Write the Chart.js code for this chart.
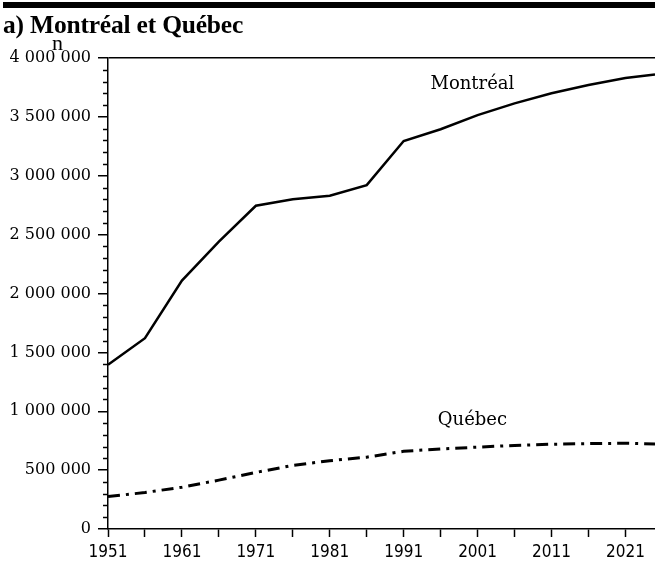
<!DOCTYPE html>
<html>
<head>
<meta charset="utf-8">
<script src="https://cdn.jsdelivr.net/npm/chart.js@4/dist/chart.umd.min.js"></script>
<style>
  body { margin: 0; background: #fff; }
  #wrap { position: relative; width: 655px; height: 562px; }
  #bar { position: absolute; left: 3px; right: 0; top: 2px; height: 6px; background: #000; }
  #title { position: absolute; left: 3px; top: 10px; font: bold 25.5px "Liberation Serif", serif; color: #000; letter-spacing: -0.2px; }
  #unit { position: absolute; left: 52px; top: 30px; font: 22px "Liberation Serif", serif; color: #000; }
</style>
</head>
<body>
<div id="wrap">
  <canvas id="chart"></canvas>
  <div id="bar"></div>
  <div id="title">a) Montréal et Québec</div>
  <div id="unit">n</div>
</div>
<script>
var years = [1951, 1956, 1961, 1966, 1971, 1976, 1981, 1986, 1991, 1996, 2001, 2006, 2011, 2016, 2021, 2025];
var montreal = [1395000, 1620000, 2110000, 2440000, 2745000, 2800000, 2830000, 2920000, 3295000, 3395000, 3515000, 3615000, 3700000, 3770000, 3830000, 3860000];
var quebec = [275000, 310000, 355000, 415000, 480000, 540000, 580000, 610000, 660000, 680000, 695000, 710000, 720000, 725000, 728000, 722000];
var xTicks = [1951, 1956, 1961, 1966, 1971, 1976, 1981, 1986, 1991, 1996, 2001, 2006, 2011, 2016, 2021];
var yTicks = [0, 500000, 1000000, 1500000, 2000000, 2500000, 3000000, 3500000, 4000000];

function points(vals) {
    return years.map(function (y, i) { return { x: y, y: vals[i] }; });
}

function fmt(v) {
    return String(v).replace(/\B(?=(\d{3})+(?!\d))/g, ' ');
}

// small ticks every 100 000 on the y axis, plus the series names
var extras = {
    id: 'extras',
    afterDraw: function (chart) {
        var c = chart.ctx, y = chart.scales.y, x = chart.scales.x;
        c.save();
        c.strokeStyle = '#000';
        c.lineWidth = 1.5;
        for (var v = 100000; v < 4000000; v += 100000) {
            if (v % 500000 === 0) continue;
            var py = Math.round(y.getPixelForValue(v)) + 0.5;
            c.beginPath();
            c.moveTo(x.left - 5, py);
            c.lineTo(x.left, py);
            c.stroke();
        }
        c.fillStyle = '#000';
        c.font = '18px "DejaVu Serif", serif';
        c.textAlign = 'center';
        c.textBaseline = 'middle';
        c.fillText('Montréal', x.getPixelForValue(2000.3), y.getPixelForValue(3780000));
        c.fillText('Québec', x.getPixelForValue(2000.3), y.getPixelForValue(925000));
        c.restore();
    }
};

var ctx = document.getElementById('chart').getContext('2d');
var myChart = new Chart(ctx, {
    type: 'line',
    data: {
        datasets: [{
            label: 'Montréal',
            data: points(montreal),
            borderColor: '#000',
            borderWidth: 2.5,
            pointRadius: 0,
            tension: 0
        }, {
            label: 'Québec',
            data: points(quebec),
            borderColor: '#000',
            borderWidth: 3,
            borderDash: [12, 6, 3, 6],
            pointRadius: 0,
            tension: 0
        }]
    },
    options: {
        responsive: true,
        maintainAspectRatio: false,
        animation: false,
        layout: { padding: { top: 58, right: 0, bottom: 0, left: 0 } },
        plugins: {
            legend: { display: false },
            tooltip: { enabled: false }
        },
        scales: {
            x: {
                type: 'linear',
                min: 1951,
                max: 2025,
                afterBuildTicks: function (scale) {
                    scale.ticks = xTicks.map(function (v) { return { value: v }; });
                },
                afterFit: function (scale) { scale.height = 33; },
                border: { color: '#000', width: 1.5 },
                grid: { drawOnChartArea: false, tickLength: 8, tickColor: '#000', tickWidth: 1.5 },
                ticks: {
                    autoSkip: false,
                    maxRotation: 0,
                    padding: 5,
                    color: '#000',
                    font: { family: '"DejaVu Sans Condensed", "DejaVu Sans", sans-serif', size: 17 },
                    callback: function (v) { return (v - 1951) % 10 === 0 ? String(v) : ''; }
                }
            },
            y: {
                min: 0,
                max: 4000000,
                afterBuildTicks: function (scale) {
                    scale.ticks = yTicks.map(function (v) { return { value: v }; });
                },
                afterFit: function (scale) { scale.width = 108; },
                border: { color: '#000', width: 1.5 },
                grid: {
                    tickLength: 10,
                    tickColor: '#000',
                    tickWidth: 1.5,
                    lineWidth: 1.5,
                    color: function (c) { return c.tick && c.tick.value === 4000000 ? '#000' : 'rgba(0,0,0,0)'; }
                },
                ticks: {
                    padding: 7,
                    color: '#000',
                    font: { family: '"DejaVu Serif", serif', size: 16 },
                    callback: function (v) { return fmt(v); }
                }
            }
        }
    },
    plugins: [extras]
});
</script>
</body>
</html>
